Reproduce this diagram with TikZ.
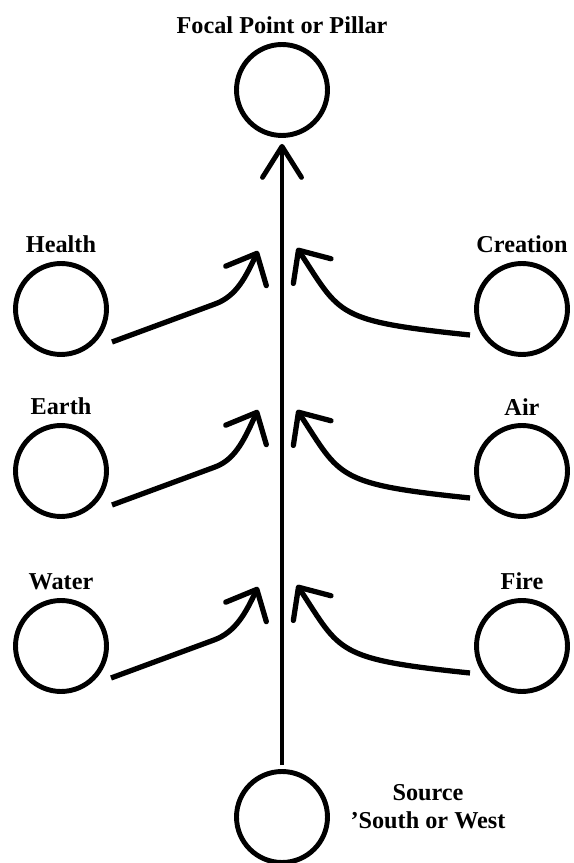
\documentclass[tikz,border=0pt]{standalone}
\usepackage{fontspec}
\setmainfont{Liberation Serif}
\usetikzlibrary{positioning,arrows.meta}

\begin{document}
\begin{tikzpicture}[
    x=0.02cm, y=0.02cm,
    spot/.style={draw, circle, line width=2.8pt, minimum size=1.82cm, inner sep=0pt},
    lbl/.style={font=\fontsize{13.8}{16}\selectfont\bfseries, label distance=1pt},
    arr/.style={line width=3pt, -{Straight Barb[length=0.5cm, width=0.9cm, round]}},
    rise/.style={line width=2.8pt, -{Straight Barb[length=0.62cm, width=0.78cm, round]}}
]
    \useasboundingbox (0,0) rectangle (574,863);

    % pillar
    \node[spot, label={[lbl]above:Focal Point or Pillar}] (focal) at (282,773) {};
    \node[spot] (source) at (282,46) {};
    \node[lbl, align=center] (srclbl) at (428,56) {Source\\'South or West};

    % left circles
    \node[spot, label={[lbl]above:Health}] (health) at (61,554) {};
    \node[spot, label={[lbl]above:Earth}] (earth) at (61,392) {};
    \node[spot, label={[lbl]above:Water}] (water) at (61,217) {};

    % right circles
    \node[spot, label={[lbl]above:Creation}] (creation) at (522,554) {};
    \node[spot, label={[lbl]above:Air}] (air) at (522,392) {};
    \node[spot, label={[lbl]above:Fire}] (fire) at (522,217) {};

    % arrow tips beside the pillar
    \coordinate (tipHealth) at (258,612);
    \coordinate (tipEarth) at (258,453);
    \coordinate (tipWater) at (258,276);
    \coordinate (tipCreation) at (297,615);
    \coordinate (tipAir) at (297,453);
    \coordinate (tipFire) at (297,278);

    \draw[rise, shorten <=2.3pt, shorten >=3.4pt] (source) -- (focal);

    \draw[arr] ([shift={(51,-33)}]health.center) -- ++(103,38) .. controls +(22,8) and +(-12,-25) .. (tipHealth);
    \draw[arr] ([shift={(51,-34)}]earth.center) -- ++(103,38) .. controls +(22,8) and +(-12,-25) .. (tipEarth);
    \draw[arr] ([shift={(50,-32)}]water.center) -- ++(103,38) .. controls +(22,8) and +(-12,-25) .. (tipWater);

    \draw[arr] ([shift={(-52,-26)}]creation.center) .. controls +(-135,14) and +(44,-67) .. (tipCreation);
    \draw[arr] ([shift={(-52,-27)}]air.center) .. controls +(-135,14) and +(44,-67) .. (tipAir);
    \draw[arr] ([shift={(-52,-27)}]fire.center) .. controls +(-135,14) and +(44,-67) .. (tipFire);
\end{tikzpicture}
\end{document}
